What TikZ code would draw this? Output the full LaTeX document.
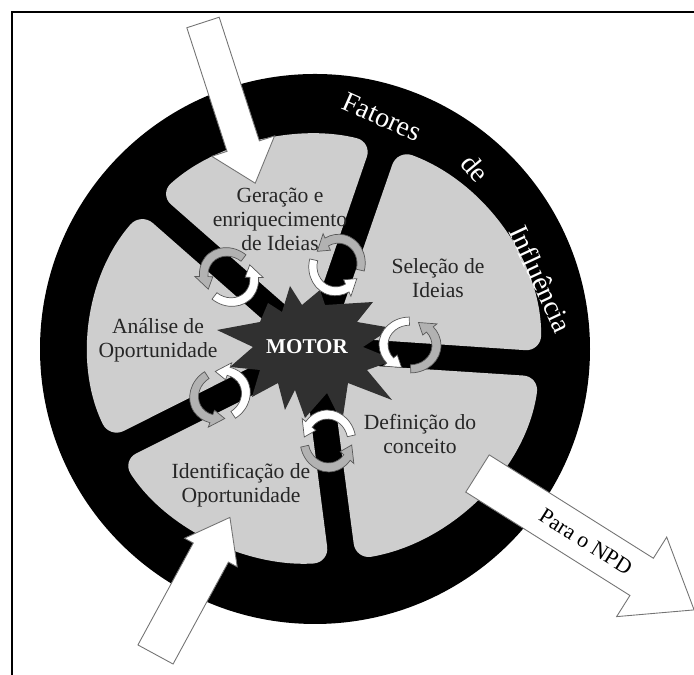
\documentclass[tikz,border=0pt]{standalone}
\usepackage{fontspec}
\setmainfont{Liberation Serif}
\usetikzlibrary{calc}

\definecolor{sectorgray}{RGB}{206,206,206}
\definecolor{motorgray}{RGB}{48,48,48}

\newcommand{\gsector}[2]{%
  \fill[sector] ($(C)+({#1+3.4}:226 and 214)$)
    arc[start angle={#1+3.4}, end angle={#2-3.4}, x radius=226, y radius=214]
    -- ($(C)+({(#1+#2)/2}:{13/sin((#2-#1)/2)})$) -- cycle;}
\newcommand{\twirl}[2]{%
  \begin{scope}[shift={#1}, rotate=#2, yscale=.9]
    \filldraw[twirlw] (95:31) arc[start angle=95, end angle=225, radius=31]
      -- (225:36) -- (255:26.5) -- (225:17) -- (225:22)
      arc[start angle=225, end angle=95, radius=22] -- cycle;
    \filldraw[twirlg] (-85:31) arc[start angle=-85, end angle=45, radius=31]
      -- (45:36) -- (75:26.5) -- (45:17) -- (45:22)
      arc[start angle=45, end angle=-85, radius=22] -- cycle;
  \end{scope}}
\newcommand{\blockarrow}[6]{%
  \begin{scope}[shift={#1}, rotate=#2]
    \filldraw[bigarrow] (0,-#4) -- ({#3-#6},-#4) -- ({#3-#6},-#5) -- (#3,0)
      -- ({#3-#6},#5) -- ({#3-#6},#4) -- (0,#4) -- cycle;
  \end{scope}}

\begin{document}
\begin{tikzpicture}[x=0.02cm,y=0.02cm,
  sector/.style={fill=sectorgray,rounded corners=9pt},
  stage/.style={align=center,text=black!85,font=\fontsize{12.3}{13.7}\selectfont},
  ringtext/.style={text=white,font=\fontsize{16}{18}\selectfont},
  bigarrow/.style={fill=white,draw=black!55,line width=0.5pt},
  twirlw/.style={fill=white,draw=black!65,line width=0.4pt},
  twirlg/.style={fill=black!30,draw=black!65,line width=0.4pt}]
  \useasboundingbox (0,0) rectangle (694,675);
  \clip (0,0) rectangle (694,675);
  \coordinate (C) at (315,326);

  % wheel
  \fill[black] (C) circle[radius=275];
  \gsector{-4}{72}
  \gsector{72}{137}
  \gsector{137}{208}
  \gsector{208}{277}
  \gsector{-83}{-4}

  % motor
  \fill[motorgray] (217,345) -- (260,353) -- (268,372) -- (282,363) -- (290,389)
    -- (302,370) -- (320,385) -- (325,370) -- (373,373) -- (357,353) -- (392,347)
    -- (363,328) -- (395,315) -- (367,305) -- (392,275) -- (348,292) -- (342,252)
    -- (327,282) -- (305,257) -- (295,285) -- (285,265) -- (278,292) -- (252,278)
    -- (260,305) -- (230,308) -- (253,328) -- cycle;
  \node[text=white,font=\bfseries\fontsize{12}{14}\selectfont] (motor) at (307,328) {MOTOR};

  \twirl{(229,398)}{137}
  \twirl{(337,410)}{72}
  \twirl{(410,330)}{-4}
  \twirl{(328,234)}{-83}
  \twirl{(220,280)}{208}

  % stages
  \node[stage] (geracao) at (280,456) {Geração e\\enriquecimento\\de Ideias};
  \node[stage] (selecao) at (438,397) {Seleção de\\Ideias};
  \node[stage] (analise) at (158,335) {Análise de\\Oportunidade};
  \node[stage] (identificacao) at (241,190) {Identificação de\\Oportunidade};
  \node[stage] (definicao) at (420,241) {Definição do\\conceito};

  \node[ringtext,rotate=-24] (fatores) at (382,558) {Fatores};
  \node[ringtext,rotate=-50] (de) at (475,507) {de};
  \node[ringtext,rotate=-65] (influencia) at (541,396) {Influência};

  % in and out
  \blockarrow{(203,652.5)}{-72}{169}{17}{33}{39}
  \blockarrow{(155.5,20.5)}{61.5}{156}{20}{30}{40}
  \begin{scope}[shift={(477.5,201.5)},rotate=-32.2]
    \filldraw[bigarrow] (0,-22) -- (194,-22) -- (194,-47) -- (256,0) -- (194,47)
      -- (194,22) -- (0,22) -- cycle;
    \node[rotate=-32.2,font=\fontsize{12.5}{14}\selectfont] (npd) at (128,0) {Para o NPD};
  \end{scope}

  \draw[line width=1.1pt] (12,-5) |- (700,663);
\end{tikzpicture}
\end{document}
